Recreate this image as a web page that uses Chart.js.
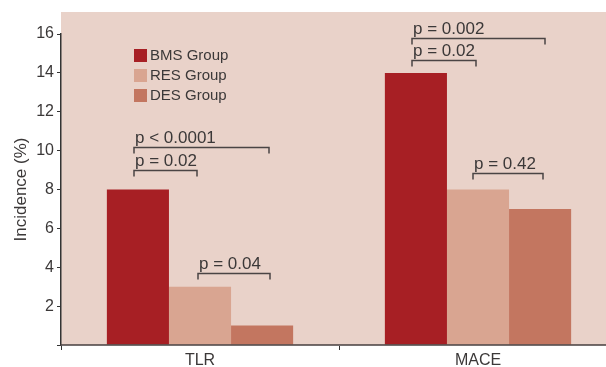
<!DOCTYPE html>
<html>
<head>
<meta charset="utf-8">
<script src="https://cdn.jsdelivr.net/npm/chart.js@4.4.1/dist/chart.umd.min.js"></script>
<style>
  html, body { margin: 0; padding: 0; background: #fff; overflow: hidden; }
  #wrap { width: 617px; height: 367px; }
</style>
</head>
<body>
<div id="wrap"><canvas id="incChart"></canvas></div>
<script>
// data
const categories = ["TLR", "MACE"];
const groupNames = ["BMS Group", "RES Group", "DES Group"];
const bmsValues = [8, 14];
const resValues = [3, 8];
const desValues = [1, 7];
const groupColors = ["#a71f24", "#d9a591", "#c37660"];
const yTicks = [0, 2, 4, 6, 8, 10, 12, 14, 16];

// significance brackets: category index, start / end (in bar slots), height (%), label
const bracketCat = [0, 0, 0, 1, 1, 1];
const bracketFrom = [-0.065, -0.065, 0.97, -0.065, -0.065, 0.92];
const bracketTo = [2.11, 0.95, 2.13, 2.08, 0.975, 2.05];
const bracketLevel = [10.2, 9.0, 3.7, 15.8, 14.65, 8.85];
const bracketText = ["p < 0.0001", "p = 0.02", "p = 0.04", "p = 0.002", "p = 0.02", "p = 0.42"];

const FONT = "'Liberation Sans', Arial, sans-serif";
const TEXT = "#3b3838";

// plot background (runs a bit above the top tick)
const bgPlugin = {
    id: "bgPlugin",
    beforeDraw(chart) {
        const { ctx, chartArea: a } = chart;
        ctx.save();
        ctx.fillStyle = "#e9d2c9";
        ctx.fillRect(a.left, a.top - 22, a.right - a.left, a.bottom - a.top + 22);
        ctx.restore();
    }
};

// legend + p-value brackets
const annotPlugin = {
    id: "annotPlugin",
    afterDraw(chart) {
        const { ctx, chartArea: a } = chart;
        const yScale = chart.scales.y;
        ctx.save();

        // legend
        ctx.font = "15px " + FONT;
        ctx.textBaseline = "middle";
        groupNames.forEach((name, i) => {
            const x = a.left + 73;
            const y = a.top + 15 + i * 20;
            ctx.fillStyle = groupColors[i];
            ctx.fillRect(x, y, 13, 13);
            ctx.fillStyle = TEXT;
            ctx.fillText(name, x + 16, y + 7);
        });

        // brackets
        ctx.font = "17px " + FONT;
        ctx.strokeStyle = "#4a4444";
        ctx.lineWidth = 1.5;
        ctx.textBaseline = "alphabetic";
        bracketText.forEach((label, i) => {
            const c = bracketCat[i];
            const first = chart.getDatasetMeta(0).data[c].x;
            const step = chart.getDatasetMeta(1).data[c].x - first;
            const x1 = Math.round(first + bracketFrom[i] * step);
            const x2 = Math.round(first + bracketTo[i] * step);
            const y = Math.round(yScale.getPixelForValue(bracketLevel[i])) + 0.5;
            ctx.beginPath();
            ctx.moveTo(x1, y + 6);
            ctx.lineTo(x1, y);
            ctx.lineTo(x2, y);
            ctx.lineTo(x2, y + 6);
            ctx.stroke();
            ctx.fillStyle = TEXT;
            ctx.fillText(label, x1 + 1, y - 5);
        });
        ctx.restore();
    }
};

function buildChart() {
    const ctx = document.getElementById("incChart").getContext("2d");
    const series = [bmsValues, resValues, desValues];

    new Chart(ctx, {
        type: "bar",
        data: {
            labels: categories,
            datasets: series.map((vals, i) => ({
                label: groupNames[i],
                data: vals,
                backgroundColor: groupColors[i],
                borderWidth: 0,
                barPercentage: 1,
                categoryPercentage: 0.67
            }))
        },
        options: {
            responsive: true,
            maintainAspectRatio: false,
            animation: false,
            layout: { padding: { top: 34, left: 0, right: 0, bottom: 0 } },
            plugins: {
                legend: { display: false },
                tooltip: { enabled: false }
            },
            scales: {
                x: {
                    offset: true,
                    grid: {
                        offset: true,
                        drawOnChartArea: false,
                        tickLength: 5,
                        color: "#333"
                    },
                    border: { color: "rgba(70,62,62,0.75)", width: 2, z: 1 },
                    ticks: {
                        color: TEXT,
                        font: { family: FONT, size: 16 },
                        padding: 1
                    },
                    afterFit(axis) { axis.height = 22; }
                },
                y: {
                    min: 0,
                    max: 16,
                    afterBuildTicks(axis) {
                        axis.ticks = yTicks.map(v => ({ value: v }));
                    },
                    grid: {
                        drawOnChartArea: false,
                        tickLength: 4,
                        color: "#333"
                    },
                    border: { color: "#333", width: 1.5 },
                    ticks: {
                        color: TEXT,
                        font: { family: FONT, size: 16 },
                        padding: 3,
                        callback: v => (v === 0 ? "" : v)
                    },
                    title: {
                        display: true,
                        text: "Incidence (%)",
                        color: TEXT,
                        font: { family: FONT, size: 17 },
                        padding: { top: 11, bottom: 0 }
                    },
                    afterFit(axis) { axis.width = 61; }
                }
            }
        },
        plugins: [bgPlugin, annotPlugin]
    });
}

buildChart();
</script>
</body>
</html>
